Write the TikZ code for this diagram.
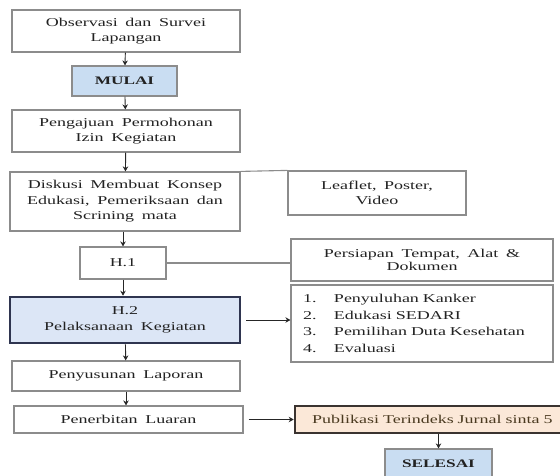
\documentclass[tikz,border=0pt]{standalone}
\usepackage{fontspec}
\setmainfont{Liberation Serif}[FakeStretch=1.5, WordSpace=1.7]
\usetikzlibrary{arrows.meta}
\definecolor{bordergrey}{HTML}{8C8C8C}
\definecolor{txt}{HTML}{222222}
\definecolor{blueA}{HTML}{C9DDF2}
\definecolor{blueB}{HTML}{DCE6F6}
\definecolor{navy}{HTML}{2F3550}
\definecolor{peach}{HTML}{FBE8D8}
\definecolor{darkb}{HTML}{3A3330}
\definecolor{pubtxt}{HTML}{4A3A20}
\tikzset{
  box/.style={draw=bordergrey, line width=1.2pt, fill=white, align=center, text=txt,
    font=\fontsize{12}{15.5}\selectfont, inner sep=0pt},
  startbox/.style={box, fill=blueA, font=\fontsize{11.5}{15}\selectfont\bfseries},
  mainbox/.style={box, draw=navy, line width=2.6pt, fill=blueB},
  pubbox/.style={box, draw=darkb, line width=2.6pt, fill=peach, text=pubtxt},
  arr/.style={draw=black!85, line width=0.9pt, -{Stealth[length=5pt,width=5.5pt]}},
  link/.style={draw=bordergrey, line width=1.1pt},
}
\begin{document}
\begin{tikzpicture}[x=1pt,y=-1pt]
\useasboundingbox (0,0) rectangle (560,475);
\clip (0,0) rectangle (560,475);
\node[box, minimum width=228, minimum height=42] (obs) at (126,31) {Observasi dan Survei\\Lapangan};
\node[startbox, minimum width=105, minimum height=30] (mulai) at (124.5,81) {MULAI};
\node[box, minimum width=228, minimum height=42] (peng) at (126,131) {Pengajuan Permohonan\\Izin Kegiatan};
\node[box, minimum width=230, minimum height=59] (disk) at (125,201.5) {Diskusi Membuat Konsep\\Edukasi, Pemeriksaan dan\\Scrining mata};
\node[box, minimum width=178, minimum height=44] (leaf) at (377,193) {Leaflet, Poster,\\Video};
\node[box, minimum width=86, minimum height=32] (h1) at (123,263) {H.1};
\node[box, minimum width=262, minimum height=42, font=\fontsize{12}{13.5}\selectfont] (pers) at (422,260) {Persiapan Tempat, Alat \&\\Dokumen};
\node[box, minimum width=262, minimum height=77, text width=250pt, inner xsep=6pt, align=left, font=\fontsize{12}{16.7}\selectfont] (list) at (422,323.5) {%
\hspace*{6pt}\makebox[31pt][l]{1.}Penyuluhan Kanker\\
\hspace*{6pt}\makebox[31pt][l]{2.}Edukasi SEDARI\\
\hspace*{6pt}\makebox[31pt][l]{3.}Pemilihan Duta Kesehatan\\
\hspace*{6pt}\makebox[31pt][l]{4.}Evaluasi};
\node[mainbox, minimum width=230, minimum height=46] (h2) at (125,320) {H.2\\Pelaksanaan Kegiatan};
\node[box, minimum width=228, minimum height=30] (lap) at (126,376) {Penyusunan Laporan};
\node[box, minimum width=229, minimum height=27] (pen) at (128.5,419.5) {Penerbitan Luaran};
\node[pubbox, minimum width=272, minimum height=27, text width=266pt, align=left] (pub) at (431,419.5) {\hspace*{14pt}Publikasi Terindeks Jurnal sinta 5};
\node[startbox, minimum width=107, minimum height=30] (sel) at (438.5,464) {SELESAI};

\draw[arr] (obs) -- (mulai);
\draw[arr] (mulai) -- (peng);
\draw[arr] (peng) -- (disk);
\draw[arr] (disk.south -| h1.north) -- (h1);
\draw[arr] (h1) -- (h2.north -| h1.south);
\draw[arr] (h2) -- (lap);
\draw[arr] (lap) -- (pen.north -| lap.south);
\draw[arr] (pub.south -| sel.north) -- (sel);
\draw[link] (disk.north east) -- (leaf.north west);
\draw[link] (h1) -- (pers.west |- h1.east);
\draw[arr, shorten <=5pt] (h2.east) -- (list.west |- h2.east);
\draw[arr, shorten <=5pt] (pen.east) -- (pub.west |- pen.east);
\end{tikzpicture}
\end{document}
